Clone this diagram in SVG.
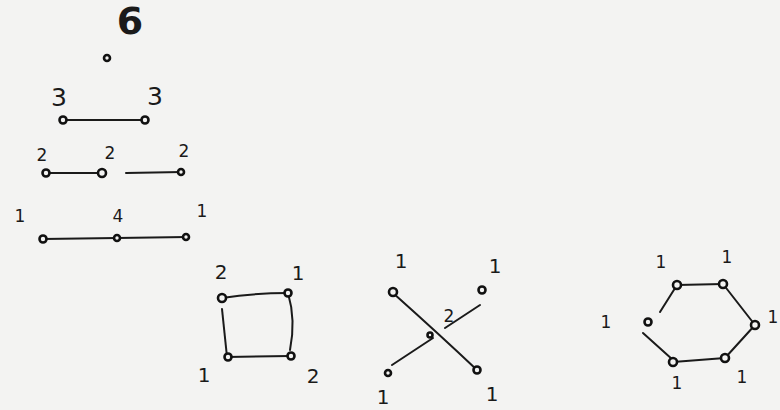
<svg xmlns="http://www.w3.org/2000/svg" width="780" height="410" viewBox="0 0 780 410">
<style>
.bg{fill:#f3f3f2}
.e{stroke:#1a1a1a;stroke-width:2;fill:none;stroke-linecap:round}
.d{fill:#f3f3f2;stroke:#111;stroke-width:2.6}
.t{font-family:"DejaVu Sans",sans-serif;fill:#1a1a1a;text-anchor:middle}
.s17{font-size:17px}
.s20{font-size:20px}
.s24{font-size:25px}
.big{font-size:38px;font-weight:bold}
</style>
<rect class="bg" width="780" height="410"/>
<g id="connectors">
<line class="e" x1="63" y1="120" x2="145" y2="120"/>
<line class="e" x1="47" y1="173" x2="102" y2="173"/>
<line class="e" x1="126" y1="173" x2="182" y2="172"/>
<line class="e" x1="43" y1="239" x2="117" y2="238"/>
<line class="e" x1="117" y1="238" x2="187" y2="237"/>
<path class="e" d="M222 298 Q255 293 288 293"/>
<path class="e" d="M288 293 Q296 320 290 350"/>
<line class="e" x1="227" y1="357" x2="290" y2="356"/>
<line class="e" x1="222" y1="309" x2="227" y2="357"/>
<path class="e" d="M393 293 Q440 335 477 370"/>
<line class="e" x1="480" y1="305" x2="445" y2="328"/>
<line class="e" x1="433" y1="338" x2="392" y2="365"/>
<line class="e" x1="677" y1="285" x2="723" y2="284"/>
<line class="e" x1="723" y1="284" x2="755" y2="325"/>
<line class="e" x1="755" y1="325" x2="725" y2="358"/>
<line class="e" x1="725" y1="358" x2="673" y2="362"/>
<line class="e" x1="643" y1="333" x2="673" y2="360"/>
<line class="e" x1="677" y1="285" x2="660" y2="312"/>
</g>
<g id="n6">
<text class="t big" x="130" y="34">6</text>
<circle class="d" cx="107" cy="58" r="3"/>
</g>
<g id="n33">
<text class="t s24" x="59" y="106">3</text>
<text class="t s24" x="155" y="105">3</text>
<circle class="d" cx="63" cy="120" r="3.5"/>
<circle class="d" cx="145" cy="120" r="3.5"/>
</g>
<g id="n222">
<text class="t s17" x="42" y="161">2</text>
<text class="t s17" x="110" y="159">2</text>
<text class="t s17" x="184" y="157">2</text>
<circle class="d" cx="46" cy="173" r="3.5"/>
<circle class="d" cx="102" cy="173" r="4"/>
<circle class="d" cx="181" cy="172" r="3"/>
</g>
<g id="n141">
<text class="t s17" x="20" y="222">1</text>
<text class="t s17" x="118" y="222">4</text>
<text class="t s17" x="202" y="217">1</text>
<circle class="d" cx="43" cy="239" r="3.5"/>
<circle class="d" cx="117" cy="238" r="3"/>
<circle class="d" cx="186" cy="237" r="3"/>
</g>
<g id="square">
<text class="t s20" x="221" y="279">2</text>
<text class="t s20" x="298" y="280">1</text>
<text class="t s20" x="204" y="382">1</text>
<text class="t s20" x="313" y="383">2</text>
<circle class="d" cx="222" cy="298" r="4"/>
<circle class="d" cx="288" cy="293" r="3.5"/>
<circle class="d" cx="228" cy="357" r="3.5"/>
<circle class="d" cx="291" cy="356" r="3.5"/>
</g>
<g id="cross">
<text class="t s20" x="401" y="268">1</text>
<text class="t s20" x="495" y="273">1</text>
<text class="t s17" x="449" y="322">2</text>
<text class="t s20" x="383" y="404">1</text>
<text class="t s20" x="492" y="401">1</text>
<circle class="d" cx="393" cy="292" r="4"/>
<circle class="d" cx="482" cy="290" r="3.5"/>
<circle class="d" cx="430" cy="335" r="2.5"/>
<circle class="d" cx="388" cy="373" r="3"/>
<circle class="d" cx="477" cy="370" r="3.5"/>
</g>
<g id="hexagon">
<text class="t s17" x="661" y="268">1</text>
<text class="t s17" x="727" y="263">1</text>
<text class="t s17" x="773" y="323">1</text>
<text class="t s17" x="606" y="328">1</text>
<text class="t s17" x="677" y="389">1</text>
<text class="t s17" x="742" y="383">1</text>
<circle class="d" cx="677" cy="285" r="4"/>
<circle class="d" cx="723" cy="284" r="4"/>
<circle class="d" cx="755" cy="325" r="4"/>
<circle class="d" cx="725" cy="358" r="4"/>
<circle class="d" cx="673" cy="362" r="4"/>
<circle class="d" cx="648" cy="322" r="3.5"/>
</g>
</svg>
